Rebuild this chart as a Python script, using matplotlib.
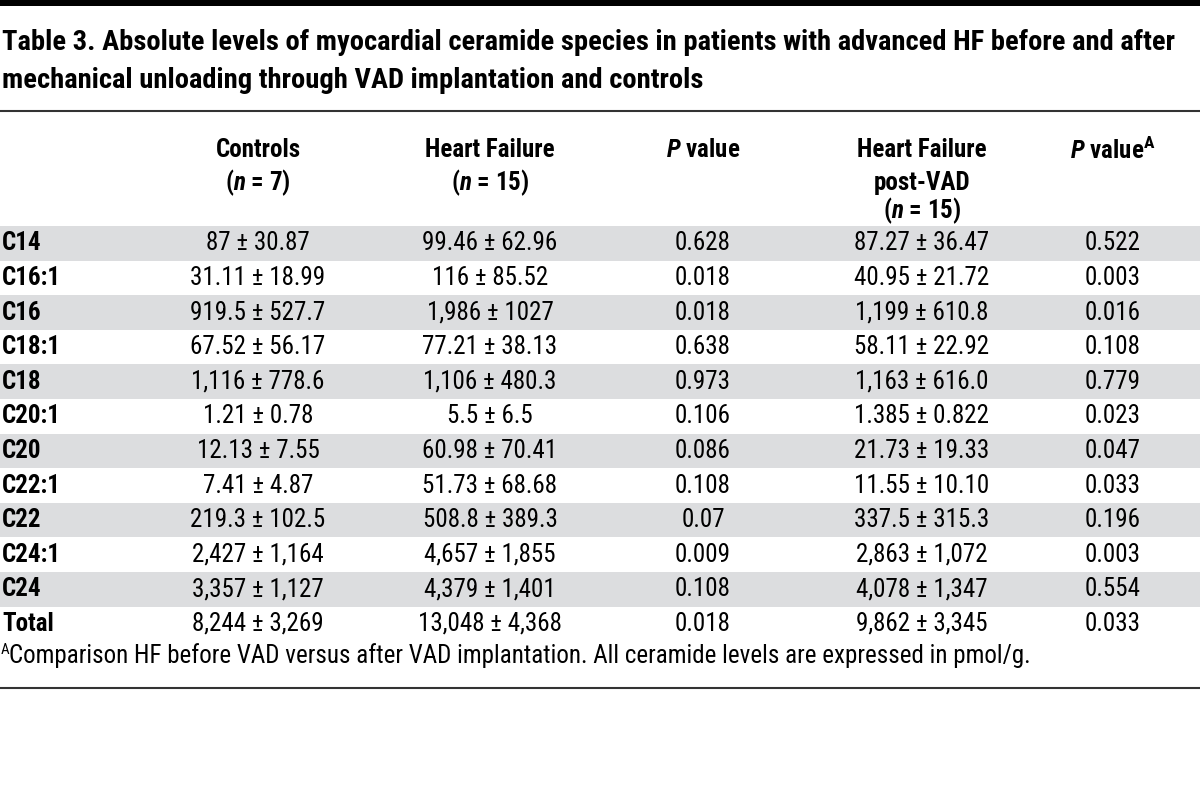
import matplotlib
matplotlib.use("Agg")
import matplotlib.pyplot as plt
import matplotlib.patches as mpatches
from matplotlib import font_manager

# pick a narrow face if one is installed, otherwise an Arial-like one
installed = {f.name for f in font_manager.fontManager.ttflist}
FACE = "Liberation Sans"
for cand in ["Liberation Sans Narrow", "DejaVu Sans Condensed", "Roboto Condensed",
             "Open Sans Condensed", "Liberation Sans"]:
    if cand in installed:
        FACE = cand
        break

plt.rcParams.update({
    "font.family": [FACE, "DejaVu Sans"],
    "mathtext.fontset": "custom",
    "mathtext.rm": f"{FACE}:bold",
    "mathtext.it": f"{FACE}:bold:italic",
    "mathtext.bf": f"{FACE}:bold",
})

# ── data ──────────────────────────────────────────────────────────────────────
title_lines = [
    "Table 3. Absolute levels of myocardial ceramide species in patients with advanced HF before and after",
    "mechanical unloading through VAD implantation and controls",
]
species = ["C14", "C16:1", "C16", "C18:1", "C18", "C20:1", "C20",
           "C22:1", "C22", "C24:1", "C24", "Total"]
controls = ["87 ± 30.87", "31.11 ± 18.99", "919.5 ± 527.7", "67.52 ± 56.17",
            "1,116 ± 778.6", "1.21 ± 0.78", "12.13 ± 7.55", "7.41 ± 4.87",
            "219.3 ± 102.5", "2,427 ± 1,164", "3,357 ± 1,127", "8,244 ± 3,269"]
heart_failure = ["99.46 ± 62.96", "116 ± 85.52", "1,986 ± 1027", "77.21 ± 38.13",
                 "1,106 ± 480.3", "5.5 ± 6.5", "60.98 ± 70.41", "51.73 ± 68.68",
                 "508.8 ± 389.3", "4,657 ± 1,855", "4,379 ± 1,401", "13,048 ± 4,368"]
p_value = ["0.628", "0.018", "0.018", "0.638", "0.973", "0.106", "0.086",
           "0.108", "0.07", "0.009", "0.108", "0.018"]
hf_post_vad = ["87.27 ± 36.47", "40.95 ± 21.72", "1,199 ± 610.8", "58.11 ± 22.92",
               "1,163 ± 616.0", "1.385 ± 0.822", "21.73 ± 19.33", "11.55 ± 10.10",
               "337.5 ± 315.3", "2,863 ± 1,072", "4,078 ± 1,347", "9,862 ± 3,345"]
p_value_a = ["0.522", "0.003", "0.016", "0.108", "0.779", "0.023", "0.047",
             "0.033", "0.196", "0.003", "0.554", "0.033"]
headers = [
    ["Controls", r"($\mathit{n}$ = 7)"],
    ["Heart Failure", r"($\mathit{n}$ = 15)"],
    [r"$\mathit{P}$ value"],
    ["Heart Failure", "post-VAD", r"($\mathit{n}$ = 15)"],
    [r"$\mathit{P}$ value$^{\mathrm{A}}$"],
]
footnote = ("Comparison HF before VAD versus after VAD implantation. "
            "All ceramide levels are expressed in pmol/g.")

# ── layout (pixel coordinates) ────────────────────────────────────────────────
W, H = 1200, 810
col_x = [258, 490, 703, 922, 1113]
row_top, row_h = 226, 34.6
band_color = "#dcdddf"
rule_color = "#333333"

fig = plt.figure(figsize=(W / 100, H / 100), dpi=100)
ax = fig.add_axes([0, 0, 1, 1])
ax.set_xlim(0, W)
ax.set_ylim(H, 0)
ax.axis("off")
renderer = fig.canvas.get_renderer()


def fit_size(text, width, weight="normal", base=14):
    # font size that makes `text` about `width` pixels wide
    t = ax.text(0, 0, text, fontsize=base, fontweight=weight)
    w = t.get_window_extent(renderer).width
    t.remove()
    return base * width / w


title_fs = min(fit_size(title_lines[0], 1175, "bold"), 20.5)
head_fs = min(fit_size("Heart Failure", 132, "bold"), 18)
data_fs = min(fit_size("13,048 ± 4,368", 154), 18)
label_fs = max(min(fit_size("C16:1", 53, "bold"), 17), data_fs)
foot_fs = min(fit_size(footnote, 1028), 18)

ax.add_patch(mpatches.Rectangle((0, 0), W, 6, color="black", lw=0))

for i, line in enumerate(title_lines):
    ax.text(2, 42 + i * 38, line, fontsize=title_fs, fontweight="bold",
            va="center", ha="left")

ax.plot([0, W], [111, 111], color=rule_color, lw=1.5, solid_capstyle="butt")

header_y = [150, 183, 211]
for cx, lines in zip(col_x, headers):
    for j, line in enumerate(lines):
        ax.text(cx, header_y[j], line, fontsize=head_fs, fontweight="bold",
                ha="center", va="center")

columns = [controls, heart_failure, p_value, hf_post_vad, p_value_a]
for i, name in enumerate(species):
    y0 = row_top + i * row_h
    yc = y0 + row_h / 2
    if i % 2 == 0 and i < len(species) - 1:
        ax.add_patch(mpatches.Rectangle((0, y0), W, row_h, color=band_color, lw=0))
    ax.text(2, yc, name, fontsize=label_fs, fontweight="bold", ha="left", va="center")
    for cx, col in zip(col_x, columns):
        ax.text(cx, yc, col[i], fontsize=data_fs, ha="center", va="center")

ax.text(1, 650, "A", fontsize=foot_fs * 0.6, ha="left", va="center")
ax.text(9, 656, footnote, fontsize=foot_fs, ha="left", va="center")

ax.plot([0, W], [688, 688], color=rule_color, lw=1.5, solid_capstyle="butt")

fig.savefig("out.png", dpi=100)
